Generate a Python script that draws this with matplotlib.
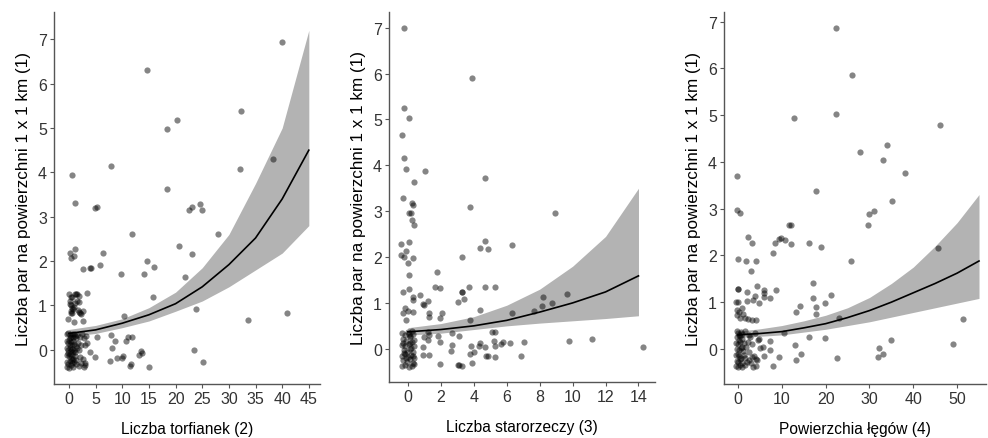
import numpy as np
import matplotlib
matplotlib.use("Agg")
import matplotlib.pyplot as plt

plt.rcParams['font.family'] = ['Liberation Sans', 'DejaVu Sans']

# shared y label
y_label = 'Liczba par na powierzchni 1 x 1 km (1)'

# --- panel 1: Liczba torfianek (2)
torf_label = 'Liczba torfianek (2)'
torf_fit_x = [0, 5, 10, 15, 20, 25, 30, 35, 40, 45]
torf_fit = [0.37, 0.45, 0.60, 0.79, 1.04, 1.42, 1.92, 2.52, 3.40, 4.50]
torf_hi = [0.46, 0.55, 0.70, 0.95, 1.30, 1.85, 2.60, 3.75, 5.00, 7.20]
torf_lo = [0.30, 0.37, 0.50, 0.65, 0.87, 1.10, 1.42, 1.80, 2.18, 2.80]
torf_points = [
    (40.0, 6.94), (14.6, 6.30), (20.3, 5.18), (18.3, 4.97), (32.3, 5.38), (7.9, 4.15),
    (32.0, 4.07), (38.3, 4.29), (0.6, 3.94), (1.1, 3.30), (4.9, 3.19), (5.3, 3.23),
    (18.3, 3.62), (22.6, 3.16), (23.1, 3.22), (24.6, 3.29), (24.9, 3.16), (11.8, 2.60),
    (27.9, 2.60), (20.6, 2.34), (23.1, 2.16), (14.7, 2.00), (15.9, 1.86), (14.1, 1.71),
    (9.7, 1.70), (21.8, 1.64), (6.4, 2.18), (5.8, 1.91), (3.9, 1.85), (4.1, 1.85),
    (2.6, 1.82), (1.2, 2.28), (0.2, 2.18), (0.9, 2.12), (0.4, 2.07), (15.7, 1.18),
    (23.9, 0.92), (10.4, 0.77), (33.6, 0.68), (41.0, 0.83), (3.3, 1.28), (5.2, 0.30),
    (7.8, 0.33), (8.7, 0.19), (8.1, 0.04), (7.7, -0.25), (9.1, -0.18), (10.0, -0.19),
    (10.1, -0.13), (10.7, 0.19), (11.0, 0.29), (11.4, -0.36), (11.7, -0.31), (11.8, 0.29),
    (13.2, -0.12), (13.6, -0.02), (13.7, -0.08), (15.1, -0.38), (23.4, -0.01), (25.2, -0.27),
    (4.9, -0.16), (3.9, -0.04), (3.1, -0.29), (2.9, -0.38), (3.4, 0.16), (2.7, 0.65),
    (2.7, 0.87), (2.3, 0.80), (1.9, 0.86),
    # near zero, upper group
    (0.0, 1.25), (0.3, 1.18), (0.2, 1.10), (0.1, 1.03), (0.4, 1.02), (0.5, 0.95),
    (0.3, 0.88), (0.6, 0.84), (0.8, 0.92), (1.0, 0.97), (1.2, 1.05), (1.4, 1.26),
    (1.6, 1.25), (1.8, 1.22), (1.5, 1.10), (1.9, 1.08), (1.7, 0.90), (2.0, 0.82),
    (0.9, 0.62), (-0.2, 0.70), (0.4, 0.84), (1.2, 1.25), (0.6, 1.20),
    # near zero, lower group
    (-0.3, 0.35), (-0.1, 0.38), (0.1, 0.33), (0.3, 0.30), (0.5, 0.36), (0.7, 0.28),
    (0.9, 0.35), (1.1, 0.31), (1.3, 0.27), (1.6, 0.33), (2.0, 0.30), (2.5, 0.35),
    (2.9, 0.27), (3.2, 0.32), (-0.4, 0.20), (-0.2, 0.15), (0.0, 0.22), (0.2, 0.12),
    (0.4, 0.18), (0.6, 0.10), (0.8, 0.20), (1.0, 0.14), (1.3, 0.08), (1.7, 0.16),
    (2.2, 0.12), (3.0, 0.10), (-0.3, 0.05), (-0.1, 0.00), (0.1, 0.04), (0.3, -0.02),
    (0.5, 0.03), (0.7, -0.05), (0.9, 0.00), (1.2, -0.04), (1.5, 0.05), (1.9, -0.01),
    (-0.4, -0.12), (-0.2, -0.08), (0.0, -0.15), (0.2, -0.10), (0.4, -0.18), (0.6, -0.12),
    (0.8, -0.20), (1.1, -0.14), (1.4, -0.22), (2.0, -0.16), (2.6, -0.20), (-0.3, -0.28),
    (-0.1, -0.32), (0.1, -0.25), (0.3, -0.35), (0.5, -0.30), (0.7, -0.38), (1.0, -0.27),
    (1.3, -0.33), (1.8, -0.36), (2.3, -0.30), (3.0, -0.35), (-0.4, -0.38), (0.0, -0.40),
    (0.6, -0.22), (0.2, 0.27),
]

# --- panel 2: Liczba starorzeczy (3)
star_label = 'Liczba starorzeczy (3)'
star_fit_x = [0, 2, 4, 6, 8, 10, 12, 14]
star_fit = [0.37, 0.42, 0.50, 0.62, 0.80, 1.00, 1.24, 1.59]
star_hi = [0.46, 0.55, 0.70, 0.95, 1.30, 1.80, 2.45, 3.50]
star_lo = [0.30, 0.34, 0.42, 0.50, 0.56, 0.61, 0.66, 0.72]
star_points = [
    (-0.26, 7.00), (3.90, 5.90), (-0.22, 5.25), (0.06, 5.04), (-0.38, 4.66), (-0.24, 4.15),
    (-0.12, 3.91), (1.05, 3.88), (0.34, 3.63), (4.67, 3.73), (-0.28, 3.28), (3.76, 3.09),
    (0.26, 3.17), (0.30, 3.14), (0.04, 2.96), (0.16, 2.96), (0.24, 2.81), (0.36, 2.70),
    (8.93, 2.96), (-0.42, 2.29), (0.04, 2.33), (4.70, 2.36), (4.36, 2.20), (4.87, 2.18),
    (6.34, 2.26), (-0.10, 2.13), (-0.40, 2.05), (-0.22, 2.00), (0.32, 1.97), (-0.02, 1.88),
    (3.31, 2.00), (0.04, 1.60), (1.76, 1.67), (1.64, 1.34), (1.94, 1.32), (-0.32, 1.24),
    (0.04, 1.30), (0.71, 1.18), (0.30, 1.14), (0.30, 1.06), (1.23, 1.05), (0.93, 0.98),
    (0.97, 0.96), (3.07, 1.03), (3.39, 1.09), (3.27, 1.24), (3.31, 1.24), (3.72, 1.34),
    (4.67, 1.35), (5.31, 1.34), (-0.18, 0.88), (-0.28, 0.77), (-0.02, 0.83), (0.30, 0.80),
    (-0.12, 0.62), (1.31, 0.78), (1.27, 0.70), (2.06, 0.79), (1.92, 0.68), (4.36, 0.84),
    (3.76, 0.63), (8.18, 1.14), (8.16, 0.93), (8.73, 1.00), (9.64, 1.19), (6.30, 0.78),
    (7.64, 0.82), (9.80, 0.17), (11.17, 0.22), (14.28, 0.03), (7.07, 0.15), (6.18, 0.12),
    (6.85, -0.15), (5.29, -0.17), (4.77, -0.15), (4.85, -0.15), (4.70, 0.04), (4.30, 0.07),
    (4.36, 0.12), (5.23, 0.17), (5.31, 0.36), (5.10, 0.36), (5.29, 0.07), (5.64, 0.11),
    (5.80, 0.15), (3.86, 0.05), (4.00, -0.07), (3.76, -0.11), (3.88, -0.31), (3.05, -0.35),
    (3.13, -0.35), (3.27, -0.37), (3.09, 0.28), (2.67, 0.09), (2.65, 0.34), (2.63, -0.05),
    (1.94, -0.34), (1.94, 0.15), (1.82, 0.27), (1.31, -0.14), (0.91, -0.13), (0.91, 0.04),
    (0.97, 0.25), (1.19, 0.20), (1.23, 0.37), (1.30, 0.30),
    # near zero
    (-0.35, 0.35), (-0.20, 0.30), (0.00, 0.36), (0.15, 0.28), (0.30, 0.33), (-0.30, 0.22),
    (-0.10, 0.18), (0.10, 0.25), (0.25, 0.15), (0.38, 0.20), (-0.38, 0.08), (-0.15, 0.05),
    (0.05, 0.10), (0.20, 0.02), (0.35, 0.07), (-0.25, -0.03), (-0.05, -0.06), (0.12, -0.01),
    (0.30, -0.08), (-0.35, -0.15), (-0.18, -0.12), (0.00, -0.18), (0.18, -0.14), (0.36, -0.20),
    (-0.28, -0.25), (-0.08, -0.28), (0.10, -0.22), (0.28, -0.30), (-0.38, -0.38), (-0.15, -0.35),
    (0.05, -0.40), (0.22, -0.37), (0.38, -0.33), (-0.30, 0.12), (0.08, 0.32), (0.32, -0.15),
    (-0.12, -0.20), (0.25, 0.38), (-0.22, -0.10), (0.15, 0.12),
]

# --- panel 3: Powierzchia łęgów (4)
leg_label = 'Powierzchia łęgów (4)'
leg_fit_x = [0, 5, 10, 15, 20, 25, 30, 35, 40, 45, 50, 55]
leg_fit = [0.30, 0.33, 0.37, 0.45, 0.54, 0.67, 0.82, 1.00, 1.20, 1.40, 1.62, 1.88]
leg_hi = [0.38, 0.43, 0.50, 0.60, 0.72, 0.88, 1.10, 1.40, 1.75, 2.20, 2.70, 3.30]
leg_lo = [0.24, 0.27, 0.30, 0.36, 0.42, 0.50, 0.58, 0.68, 0.78, 0.88, 0.98, 1.08]
leg_points = [
    (22.4, 6.87), (25.9, 5.85), (22.3, 5.02), (12.8, 4.94), (46.1, 4.79), (34.1, 4.37),
    (27.8, 4.21), (33.2, 4.04), (38.0, 3.76), (-0.2, 3.69), (17.9, 3.37), (35.1, 3.16),
    (-0.2, 2.96), (0.45, 2.90), (29.8, 2.89), (31.0, 2.94), (29.7, 2.66), (11.7, 2.66),
    (12.1, 2.66), (2.2, 2.39), (3.2, 2.26), (9.7, 2.38), (10.8, 2.33), (9.4, 2.34),
    (12.0, 2.24), (16.1, 2.26), (8.4, 2.26), (19.0, 2.17), (45.7, 2.16), (0.1, 1.92),
    (1.8, 1.87), (4.1, 1.88), (7.9, 2.06), (25.7, 1.89), (2.9, 1.66), (-0.1, 1.29),
    (0.1, 1.29), (17.1, 1.40), (4.4, 1.34), (5.9, 1.26), (6.0, 1.20), (5.9, 1.12),
    (8.6, 1.27), (7.2, 1.09), (2.0, 1.21), (3.9, 1.14), (3.4, 1.05), (2.0, 1.03),
    (-0.4, 1.01), (0.1, 1.01), (17.1, 1.08), (4.8, 0.99), (21.3, 1.16), (19.8, 0.98),
    (14.1, 0.91), (13.3, 0.78), (17.7, 0.89), (17.9, 0.74), (23.0, 0.66), (51.4, 0.64),
    (-0.2, 0.73), (0.2, 0.79), (1.2, 0.75), (0.9, 0.87), (0.45, 0.66), (1.5, 0.66),
    (2.3, 0.64), (3.1, 0.62), (4.2, 0.61), (-0.2, 0.84), (49.0, 0.10), (35.0, 0.19),
    (32.1, 0.01), (33.2, -0.11), (32.0, -0.18), (22.6, -0.20), (19.9, 0.23), (16.3, 0.26),
    (13.1, 0.09), (14.3, -0.11), (13.3, -0.24), (10.6, 0.33), (9.3, -0.18), (7.9, -0.36),
    (7.3, 0.18), (5.9, -0.16), (5.1, 0.01), (4.8, 0.21), (5.6, 0.05), (7.2, -0.02),
    (4.0, -0.36), (3.5, -0.39), (4.1, -0.21), (3.9, 0.34), (3.1, 0.10), (2.5, -0.07),
    (3.3, -0.18), (2.5, -0.24), (2.2, 0.14), (1.7, -0.34), (4.3, -0.24),
    # near zero
    (-0.3, 0.38), (0.0, 0.35), (0.3, 0.30), (0.6, 0.36), (1.0, 0.32), (1.5, 0.38),
    (-0.2, 0.25), (0.2, 0.20), (0.5, 0.27), (0.9, 0.22), (-0.4, 0.12), (0.0, 0.10),
    (0.4, 0.15), (0.8, 0.05), (1.3, 0.12), (-0.2, 0.00), (0.2, -0.03), (0.6, 0.02),
    (1.1, -0.05), (-0.4, -0.12), (0.0, -0.10), (0.3, -0.15), (0.7, -0.20), (1.4, -0.12),
    (-0.2, -0.25), (0.1, -0.28), (0.5, -0.22), (0.9, -0.30), (-0.4, -0.36), (0.0, -0.38),
    (0.4, -0.35), (1.0, -0.38), (2.0, -0.28), (1.8, 0.05), (2.4, 0.30), (3.0, -0.30),
    (2.8, 0.25), (3.6, -0.15), (4.5, 0.20), (1.6, -0.20),
]

panels = [
    (torf_label, torf_points, torf_fit_x, torf_fit, torf_lo, torf_hi,
     [0, 5, 10, 15, 20, 25, 30, 35, 40, 45], (-2.8, 47.1), (-0.77, 7.61),
     [0.0547, 0.123, 0.2692, 0.847]),
    (star_label, star_points, star_fit_x, star_fit, star_lo, star_hi,
     [0, 2, 4, 6, 8, 10, 12, 14], (-1.15, 15.0), (-0.72, 7.34),
     [0.3937, 0.128, 0.2692, 0.842]),
    (leg_label, leg_points, leg_fit_x, leg_fit, leg_lo, leg_hi,
     [0, 10, 20, 30, 40, 50], (-3.2, 56.6), (-0.75, 7.2),
     [0.7328, 0.123, 0.2652, 0.847]),
]

fig = plt.figure(figsize=(9.88, 4.39), dpi=100)

for label, pts, fx, fy, lo, hi, xt, xl, yl, pos in panels:
    ax = fig.add_axes(pos)
    px, py = np.array(pts).T
    ax.fill_between(fx, lo, hi, color='#b3b3b3', linewidth=0, zorder=1)
    ax.plot(fx, fy, color='black', linewidth=1.2, zorder=2)
    ax.scatter(px, py, s=20, color='black', alpha=0.48, linewidths=0, zorder=3)

    ax.set_xlim(*xl)
    ax.set_ylim(*yl)
    ax.set_xticks(xt)
    ax.set_yticks(range(8))
    for side in ['top', 'right']:
        ax.spines[side].set_visible(False)
    for side in ['left', 'bottom']:
        ax.spines[side].set_color('#555555')
        ax.spines[side].set_linewidth(1.0)
    ax.tick_params(length=3, width=0.8, color='#555555', labelsize=11.5,
                   labelcolor='#333333', pad=2)
    ax.set_xlabel(label, fontsize=11.2, labelpad=11)
    ax.set_ylabel(y_label, fontsize=12.3, labelpad=5)

fig.savefig('out.png', dpi=100)
